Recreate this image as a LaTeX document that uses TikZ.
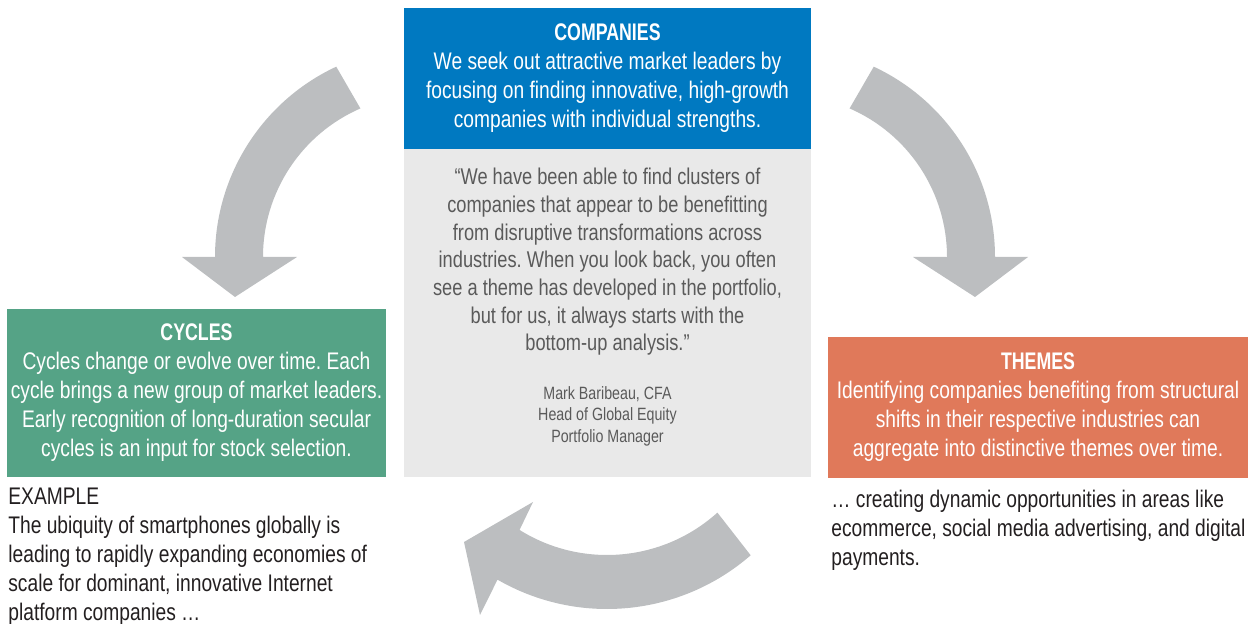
\documentclass[tikz,border=0pt]{standalone}
\usepackage{fontspec}
\setmainfont{Liberation Sans}[FakeStretch=0.8,BoldFeatures={FakeStretch=0.74}]
\frenchspacing
\definecolor{compblue}{HTML}{0079C1}
\definecolor{quotegrey}{HTML}{E9E9E9}
\definecolor{cyclegreen}{HTML}{55A386}
\definecolor{themeorange}{HTML}{E0795A}
\definecolor{arrowgrey}{HTML}{BCBEC0}
\definecolor{quotetext}{HTML}{5A5A5A}
\definecolor{darktext}{HTML}{231F20}

\begin{document}
\begin{tikzpicture}[x=0.5pt,y=-0.5pt,
    panel/.style={inner sep=0pt,align=center,text=white,
      font=\fontsize{12}{14.5}\selectfont},
    note/.style={inner sep=0pt,align=left,text=darktext,
      font=\fontsize{12}{14.5}\selectfont},
    bigarrow/.style={fill=arrowgrey}]
  \useasboundingbox (0,0) rectangle (1248,624);

  % the three boxes and the quote
  \node[panel,fill=compblue,minimum width=203.5pt,minimum height=70.5pt] (companies) at (607.5, 78.5)
    {\textbf{COMPANIES}\\We seek out attractive market leaders by\\focusing on finding innovative, high-growth\\companies with individual strengths.};
  \node[fill=quotegrey,inner sep=0pt,minimum width=203.5pt,minimum height=164pt] (quotebox) at (607.5, 313) {};
  \node[align=center,inner sep=0pt,text=quotetext,font=\fontsize{11.4}{13.85}\selectfont] (quote) at (607.5, 262)
    {“We have been able to find clusters of\\companies that appear to be benefitting\\from disruptive transformations across\\industries. When you look back, you often\\see a theme has developed in the portfolio,\\but for us, it always starts with the\\bottom-up analysis.”};
  \node[align=center,inner sep=0pt,text=quotetext,font=\fontsize{8.9}{10.75}\selectfont] (author) at (607.5, 416)
    {Mark Baribeau, CFA\\Head of Global Equity\\Portfolio Manager};
  \node[panel,fill=cyclegreen,minimum width=189.5pt,minimum height=84pt] (cycles) at (196.5, 393)
    {\textbf{CYCLES}\\Cycles change or evolve over time. Each\\cycle brings a new group of market leaders.\\Early recognition of long-duration secular\\cycles is an input for stock selection.};
  \node[panel,fill=themeorange,minimum width=210pt,minimum height=70.5pt] (themes) at (1038, 407.5)
    {\textbf{THEMES}\\Identifying companies benefiting from structural\\shifts in their respective industries can\\aggregate into distinctive themes over time.};

  \node[note,anchor=north west] (example) at (8, 488)
    {EXAMPLE\\The ubiquity of smartphones globally is\\leading to rapidly expanding economies of\\scale for dominant, innovative Internet\\platform companies \ldots};
  \node[note,anchor=north west] (outlook) at (831, 490)
    {\ldots{} creating dynamic opportunities in areas like\\ecommerce, social media advertising, and digital\\payments.};

  % curved arrows
  \begin{scope}[shift={(425,257)}]
    \fill[bigarrow] (245:210) arc[start angle=245,end angle=180,radius=210]
      -- (-243,0) -- (-190,40) -- (-128,0)
      -- (180:162) arc[start angle=180,end angle=246.5,radius=162] -- cycle;
  \end{scope}
  \begin{scope}[shift={(785,257)}]
    \fill[bigarrow] (295:210) arc[start angle=295,end angle=360,radius=210]
      -- (243,0) -- (190,40) -- (128,0)
      -- (0:162) arc[start angle=360,end angle=293.5,radius=162] -- cycle;
  \end{scope}
  \begin{scope}[shift={(607,390)}]
    \fill[bigarrow] (49:219) arc[start angle=49,end angle=120,radius=219]
      -- (-127,225) -- (-143,152) -- (-74,112)
      -- (122:165) arc[start angle=122,end angle=48,radius=165] -- cycle;
  \end{scope}
\end{tikzpicture}
\end{document}
